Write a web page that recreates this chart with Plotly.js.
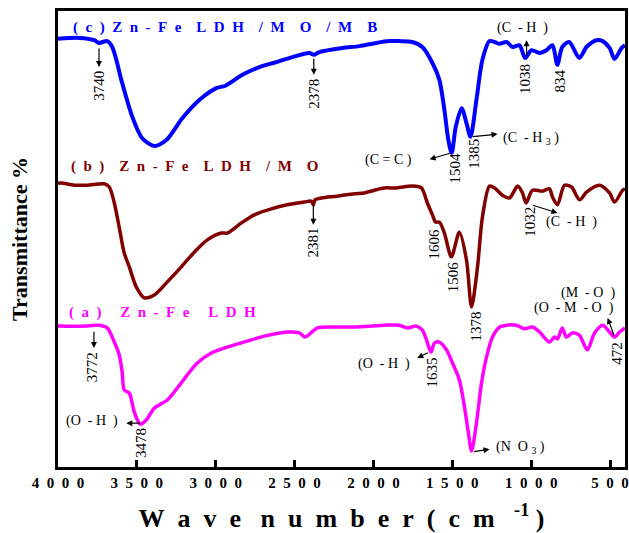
<!DOCTYPE html>
<html>
<head>
<meta charset="utf-8">
<script src="https://cdn.plot.ly/plotly-3.0.1.min.js"></script>
<style>html,body{margin:0;padding:0;background:#fff;}#chart{width:629px;height:533px;}</style>
</head>
<body>
<div id="chart"></div>
<script>
// ---- Data (wavenumber cm^-1, transmittance a.u.) ----
const wnC = [4000,3865,3770,3740,3688,3656,3593,3529,3466,3390,3313,3212,3104,2996,2939,2831,2723,2616,2514,2406,2378,2343,2197,2089,1982,1899,1836,1754,1690,1626,1582,1550,1525,1504,1478,1441,1410,1385,1347,1309,1264,1232,1200,1156,1118,1074,1038,998,947,903,865,834,803,759,695,649,586,547,503,471,426,405];
const tC  = [93.9,94.1,93.6,93.0,93.4,92.1,84.2,76.8,72.1,70.4,71.7,76.5,80.5,83.1,83.6,86.0,87.7,88.8,89.9,90.8,90.4,91.0,91.9,92.3,93.0,93.4,93.4,93.2,92.1,88.6,84.9,78.3,71.7,68.9,74.6,78.7,75.4,72.4,80.5,89.3,93.4,93.2,92.8,93.2,92.1,92.5,89.7,91.4,90.8,91.4,92.5,88.2,92.1,93.2,89.7,92.1,93.6,93.4,91.9,89.5,91.9,92.5];

const wnB = [4000,3980,3897,3815,3707,3675,3643,3612,3580,3548,3504,3453,3390,3307,3218,3136,3053,2965,2926,2838,2755,2647,2546,2438,2395,2381,2370,2330,2229,2121,2057,1994,1931,1855,1754,1696,1658,1626,1606,1582,1550,1506,1455,1410,1378,1340,1309,1264,1232,1182,1137,1086,1055,1032,992,928,884,865,833,789,744,693,649,566,503,471,420,405];
const tB  = [62.2,62.3,61.8,61.8,62.1,61.4,57.9,52.6,46.9,43.9,39.5,37.1,37.7,40.6,43.9,47.1,49.8,51.3,51.3,53.5,55.3,56.6,57.5,58.1,58.3,57.5,58.6,59.0,59.4,59.9,60.1,60.7,61.2,61.2,61.6,61.2,57.9,55.3,53.7,53.7,51.3,46.1,51.5,45.4,35.1,43.9,54.8,61.6,61.2,59.6,59.0,61.6,60.1,57.9,60.7,60.5,61.0,59.2,57.5,61.8,61.4,58.6,60.3,61.8,60.1,58.1,60.7,61.0];

const wnA = [4000,3980,3815,3739,3688,3643,3612,3593,3580,3548,3517,3485,3478,3440,3390,3307,3244,3180,3117,3028,2926,2800,2692,2546,2470,2432,2355,2229,2121,2013,1931,1836,1785,1728,1690,1664,1635,1613,1582,1537,1499,1455,1423,1398,1378,1347,1315,1283,1245,1200,1156,1093,1042,992,947,884,852,833,803,777,739,695,644,598,547,503,472,439,405];
const tA  = [30.9,30.9,30.9,31.1,30.5,27.4,24.6,20.8,16.9,16.2,12.1,9.6,9.4,10.3,12.9,14.7,17.3,20.2,22.8,25.0,26.3,27.6,28.7,29.6,29.4,28.5,30.5,30.7,30.7,30.9,31.1,31.1,30.5,30.9,30.0,27.9,25.2,27.2,27.4,25.7,22.8,19.1,13.2,7.5,3.5,9.6,18.4,24.1,28.5,30.7,31.1,31.1,30.3,30.7,29.6,27.4,28.5,28.1,30.5,28.5,29.4,28.9,25.7,29.4,31.1,29.6,28.5,29.6,30.5];

const seriesNames = ['(c)Zn-Fe LDH /M O /M B','(b) Zn-Fe LDH /M O','(a) Zn-Fe LDH'];
const tickVals = [4000,3500,3000,2500,2000,1500,1000,500];
const tickLabels = ['4000','3500','3000','2500','2000','1500','1000','500'];

// ---- helpers ----
const NB = '\u00a0';
function spaced(s, gap, wordGap){
  return s.split(' ').map(w => w.split('').join(NB.repeat(gap))).join(NB.repeat(wordGap));
}
const serif = 'Liberation Serif, Times New Roman, serif';

const traces = [
  {x: wnC, y: tC, name: seriesNames[0], mode:'lines', line:{color:'#0000ff', width:4, shape:'spline', smoothing:0.8}},
  {x: wnB, y: tB, name: seriesNames[1], mode:'lines', line:{color:'#800000', width:3.5, shape:'spline', smoothing:0.8}},
  {x: wnA, y: tA, name: seriesNames[2], mode:'lines', line:{color:'#ff00ff', width:3.5, shape:'spline', smoothing:0.8}}
];

const annFont = {family: serif, size: 14, color:'#000'};
const numFont = {family: serif, size: 15, color:'#000'};
function label(x, y, text, extra){
  return Object.assign({x:x, y:y, xref:'x', yref:'y', text:text, showarrow:false, font:annFont}, extra||{});
}
function num(x, y, text){
  return {x:x, y:y, xref:'x', yref:'y', text:text, showarrow:false, textangle:-90, font:numFont};
}
function arrow(hx, hy, tx, ty){
  return {x:hx, y:hy, ax:tx, ay:ty, xref:'x', yref:'y', axref:'x', ayref:'y', text:'', showarrow:true,
          arrowhead:2, arrowsize:1, arrowwidth:1.2, arrowcolor:'#000', standoff:0, startstandoff:0};
}

const annotations = [
  // series labels
  label(3916, 96.3, '<b>'+spaced(seriesNames[0],2,4)+'</b>', {xanchor:'left', font:{family:serif,size:15,color:'#0000ff'}}),
  label(3929, 65.8, '<b>'+spaced(seriesNames[1],2,4)+'</b>', {xanchor:'left', font:{family:serif,size:15,color:'#800000'}}),
  label(3942, 33.8, '<b>'+spaced(seriesNames[2],2,5)+'</b>', {xanchor:'left', font:{family:serif,size:15,color:'#ff00ff'}}),
  // blue (c)
  arrow(3740, 87.7, 3740, 92.1), num(3740, 83.6, '3740'),
  arrow(2378, 86.0, 2378, 89.9), num(2378, 81.8, '2378'),
  label(1905, 67.3, '(C'+NB+'='+NB+'C'+NB+')'),
  arrow(1644, 67.5, 1505, 68.9), num(1485, 65.6, '1504'),
  num(1359, 68.6, '1385'),
  arrow(1213, 73.0, 1380, 72.4), label(1004, 72.1, '(C'+NB+NB+'-'+NB+'H'+NB+'<sub>3</sub>'+NB+')'),
  arrow(1029, 93.6, 1029, 89.9), label(1054, 96.3, '(C'+NB+NB+'-'+NB+'H'+NB+NB+')'),
  num(1038, 85.1, '1038'), num(815, 84.6, '834'),
  // brown (b)
  arrow(2381, 53.1, 2381, 57.9), num(2381, 49.3, '2381'),
  num(1613, 48.9, '1606'), num(1499, 41.7, '1506'), num(1347, 30.9, '1378'), num(1004, 53.7, '1032'),
  arrow(833, 55.7, 998, 57.5), label(743, 53.7, '(C'+NB+NB+'-'+NB+'H'+NB+NB+')'),
  // magenta (a)
  arrow(3772, 26.1, 3772, 30.0), num(3783, 21.9, '3772'),
  arrow(3567, 9.6, 3472, 9.6), label(3783, 10.1, '(O'+NB+NB+'-'+NB+'H'+NB+NB+')'),
  num(3472, 5.3, '3478'),
  arrow(1722, 23.9, 1646, 25.2), label(1931, 22.6, '(O'+NB+NB+'-'+NB+'H'+NB+NB+')'),
  num(1626, 20.8, '1635'),
  arrow(1264, 3.9, 1372, 3.3), label(1067, 4.2, '(N'+NB+NB+'O'+NB+'<sub>3</sub>'+NB+')'),
  label(640, 38.2, '(M'+NB+NB+'-'+NB+'O'+NB+NB+')'),
  label(729, 34.9, '(O'+NB+NB+'-'+NB+'M'+NB+NB+'-'+NB+'O'+NB+NB+')'),
  arrow(515, 32.7, 471, 28.5), num(458, 25.0, '472')
];

const layout = {
  width: 629, height: 533,
  margin: {l:58, r:4, t:11, b:66},
  paper_bgcolor:'#fff', plot_bgcolor:'#fff',
  showlegend:false,
  font:{family: serif, color:'#000'},
  xaxis: {
    range:[4000, 405], showgrid:false, zeroline:false,
    showline:true, mirror:true, linewidth:3, linecolor:'#000',
    ticks:'inside', ticklen:7, tickwidth:3, tickcolor:'#000',
    tickvals: tickVals, ticktext: tickLabels.map(t => spaced(t,2,2)),
    tickfont:{family:serif, size:15, color:'#000', weight:'bold'},
    title:{text:'<b>'+spaced('Wave number(cm',2,3)+NB+NB+NB+'<sup>-1</sup>'+NB+')</b>', font:{family:serif, size:26, color:'#000'}, standoff:19}
  },
  yaxis: {
    range:[0,100], showgrid:false, zeroline:false, showticklabels:false,
    showline:true, mirror:true, linewidth:3, linecolor:'#000', ticks:'',
    title:{text:'<b>Transmittance %</b>', font:{family:serif, size:22, color:'#000'}, standoff:22}
  },
  annotations: annotations
};

Plotly.newPlot('chart', traces, layout, {staticPlot:true, displayModeBar:false});
</script>
</body>
</html>
